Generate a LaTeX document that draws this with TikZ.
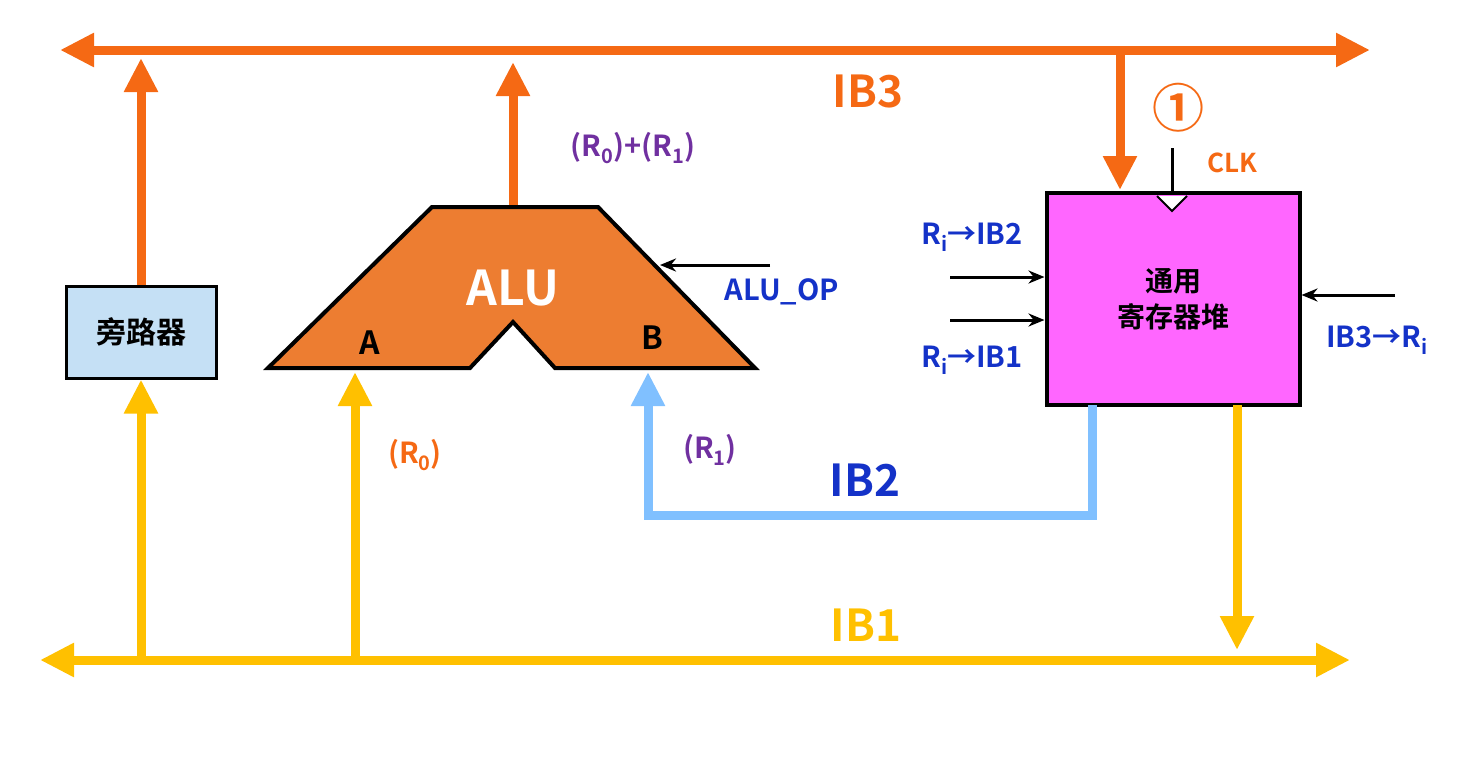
\documentclass[tikz,border=0pt]{standalone}
\usepackage{fontspec}
\setmainfont{Noto Sans CJK SC}[BoldFont={Noto Sans CJK SC Bold}]
\usetikzlibrary{arrows.meta}
\definecolor{ib3}{RGB}{245,105,20}
\definecolor{ib1}{RGB}{255,192,0}
\definecolor{ib2}{RGB}{128,192,255}
\definecolor{alu}{RGB}{237,125,49}
\definecolor{byp}{RGB}{197,224,245}
\definecolor{reg}{RGB}{255,102,255}
\definecolor{tb}{RGB}{20,50,200}
\definecolor{tp}{RGB}{112,48,160}
\newcommand{\sbx}[1]{\raisebox{-0.25em}{\fontsize{20}{20}\selectfont #1}}
\begin{document}
\begin{tikzpicture}[x=1pt,y=-1pt,
  tip/.style={-{Triangle[length=34pt,width=32pt]}},
  bus/.style={line width=9pt,tip},
  dbus/.style={line width=9pt,{Triangle[length=34pt,width=32pt]}-{Triangle[length=34pt,width=32pt]}},
  sig/.style={line width=3pt,-{Stealth[length=16pt,width=13pt]}},
  lab/.style={font=\bfseries\fontsize{29}{32}\selectfont}]
\useasboundingbox (0,0) rectangle (1460,756);
% buses
\draw[dbus,ib3] (60,50) -- (1370,50);
\draw[dbus,ib1] (40,660) -- (1350,660);
% nodes
\node[draw=black,line width=3pt,fill=byp,minimum width=150pt,minimum height=92pt,font=\bfseries\fontsize{30}{32}\selectfont] (bp) at (141,332) {旁路器};
\node[draw=black,line width=4pt,fill=reg,minimum width=253pt,minimum height=212pt,align=center,font=\bfseries\fontsize{28}{36}\selectfont] (rf) at (1173,299) {通用\\寄存器堆};
\draw[line width=4pt,fill=alu,line join=miter] (268,368) -- (432,207) -- (598,207) -- (755,368) -- (555,368) -- (513,322) -- (470,368) -- cycle;
\node[white,font=\bfseries\fontsize{48}{50}\selectfont] (alut) at (513,288) {ALU};
\node[font=\bfseries\fontsize{32}{34}\selectfont] (A) at (370,343) {A};
\node[font=\bfseries\fontsize{32}{34}\selectfont] (B) at (652,338) {B};
\coordinate (aluo) at (513,205);
\coordinate (ina) at (355,372);
\coordinate (inb) at (648,372);
% arrows to/from IB3
\draw[bus,ib3] (bp.north) -- (141,58);
\draw[bus,ib3] (aluo) -- (513,62);
\coordinate (d3) at (1120,54);
\draw[bus,ib3] (d3) -- (1120,190);
% IB1
\coordinate (u1) at (141,656);
\draw[bus,ib1] (u1) -- (bp.south);
\coordinate (u2) at (355,656);
\draw[bus,ib1] (u2) -- (ina);
\draw[bus,ib1] (1237,405) -- (1237,650);
% IB2
\draw[ib2,line width=9pt,tip] (1092,405) -- (1092,515) -- (648,515) -- (inb);
% clock
\draw[line width=3pt] (1172,148) -- (1172,195);
\draw[line width=2pt,fill=white] (1157,196) -- (1172,211) -- (1187,196);
% control signals
\coordinate (c1) at (770,265); \draw[sig] (c1) -- (660,265);
\coordinate (c2) at (950,277); \draw[sig] (c2) -- (rf.west |- c2);
\coordinate (c3) at (950,320); \draw[sig] (c3) -- (rf.west |- c3);
\coordinate (c4) at (1395,295); \draw[sig] (c4) -- (rf.east |- c4);
% labels
\node[ib3,font=\bfseries\fontsize{44}{46}\selectfont] (l3) at (868,92) {IB3};
\node[ib1,font=\bfseries\fontsize{44}{46}\selectfont] (l1) at (866,625) {IB1};
\node[tb,font=\bfseries\fontsize{44}{46}\selectfont] (l2) at (865,480) {IB2};
\node[ib3,font=\bfseries\fontsize{52}{52}\selectfont] (one) at (1178,108) {①};
\node[lab,ib3,font=\bfseries\fontsize{26}{28}\selectfont] (clk) at (1232,163) {CLK};
\node[lab,tp] (sum) at (633,148) {(R\sbx{0})+(R\sbx{1})};
\node[lab,ib3] (r0) at (415,455) {(R\sbx{0})};
\node[lab,tp] (r1) at (710,450) {(R\sbx{1})};
\node[lab,tb] (op) at (782,292) {ALU\_OP};
\node[lab,tb] (ri2) at (972,237) {R\sbx{i}→IB2};
\node[lab,tb] (ri1) at (972,360) {R\sbx{i}→IB1};
\node[lab,tb] (ib3r) at (1377,340) {IB3→R\sbx{i}};
\end{tikzpicture}
\end{document}
